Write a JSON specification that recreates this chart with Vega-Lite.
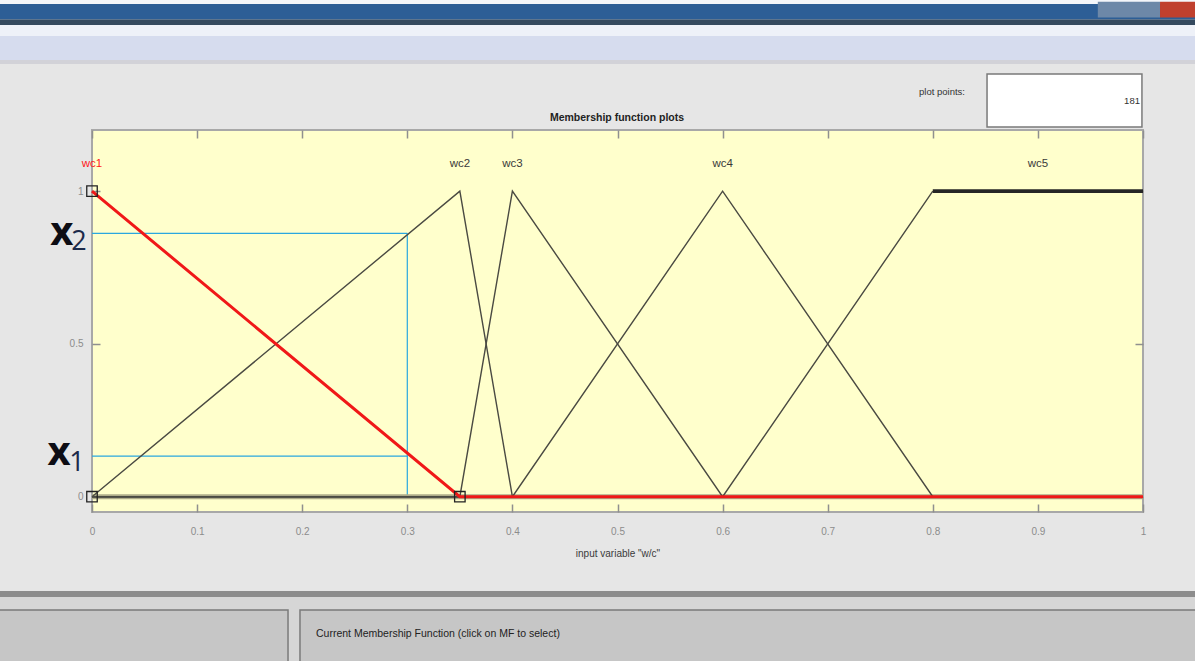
{
  "$schema": "https://vega.github.io/schema/vega-lite/v6.json",
  "width": 1051,
  "height": 382,
  "autosize": {"type": "none"},
  "padding": {"left": 92, "top": 130, "right": 52, "bottom": 149},
  "background": "#e6e6e6",
  "config": {
    "view": {"fill": "#ffffcc", "stroke": "#a8a8a8", "strokeWidth": 2},
    "font": "Liberation Sans"
  },
  "datasets": {
    "mfs": [
      {"line": "wc1", "x": 0, "y": 1},
      {"line": "wc1", "x": 0.35, "y": 0},
      {"line": "wc1", "x": 1, "y": 0},
      {"line": "wc2", "x": 0, "y": 0},
      {"line": "wc2", "x": 0.35, "y": 1},
      {"line": "wc2", "x": 0.4, "y": 0},
      {"line": "wc2", "x": 1, "y": 0},
      {"line": "wc3", "x": 0, "y": 0},
      {"line": "wc3", "x": 0.35, "y": 0},
      {"line": "wc3", "x": 0.4, "y": 1},
      {"line": "wc3", "x": 0.6, "y": 0},
      {"line": "wc3", "x": 1, "y": 0},
      {"line": "wc4", "x": 0, "y": 0},
      {"line": "wc4", "x": 0.4, "y": 0},
      {"line": "wc4", "x": 0.6, "y": 1},
      {"line": "wc4", "x": 0.8, "y": 0},
      {"line": "wc4", "x": 1, "y": 0},
      {"line": "wc5", "x": 0, "y": 0},
      {"line": "wc5", "x": 0.6, "y": 0},
      {"line": "wc5", "x": 0.8, "y": 1},
      {"line": "wc5 plateau", "x": 0.8, "y": 1},
      {"line": "wc5 plateau", "x": 1, "y": 1}
    ],
    "chrome": [
      {"part": "whitetop", "x": -0.1, "x2": 1.06, "y": 1.6123, "y2": 1.7},
      {"part": "titlebar", "x": -0.1, "x2": 1.06, "y": 1.5615, "y2": 1.6123},
      {"part": "buttons", "x": 0.957, "x2": 1.0162, "y": 1.5681, "y2": 1.62},
      {"part": "close", "x": 1.0162, "x2": 1.06, "y": 1.5681, "y2": 1.62},
      {"part": "titleline", "x": -0.1, "x2": 1.06, "y": 1.5436, "y2": 1.5615},
      {"part": "bandlight", "x": -0.1, "x2": 1.06, "y": 1.5076, "y2": 1.5436},
      {"part": "bandlav", "x": -0.1, "x2": 1.06, "y": 1.4291, "y2": 1.5076},
      {"part": "bandedge", "x": -0.1, "x2": 1.06, "y": 1.416, "y2": 1.4291},
      {"part": "bottomline", "x": -0.1, "x2": 1.06, "y": -0.3282, "y2": -0.3085},
      {"part": "bottomband", "x": -0.1, "x2": 1.06, "y": -0.7, "y2": -0.3282}
    ],
    "boxes": [
      {"part": "plotbox", "x": 0.8516, "x2": 0.999, "y": 1.2098, "y2": 1.3833},
      {"part": "leftbox", "x": -0.1, "x2": 0.1865, "y": -0.7, "y2": -0.3707},
      {"part": "rightbox", "x": 0.1979, "x2": 1.06, "y": -0.7, "y2": -0.3707}
    ]
  },
  "layer": [
    {
      "data": {"name": "chrome"},
      "mark": {"type": "rect"},
      "encoding": {
        "x": {"field": "x", "type": "quantitative", "axis": null, "scale": {"domain": [0, 1], "nice": false, "zero": false}},
        "x2": {"field": "x2"},
        "y": {"field": "y", "type": "quantitative", "axis": null, "scale": {"domain": [-0.05, 1.2], "nice": false, "zero": false}},
        "y2": {"field": "y2"},
        "fill": {
          "field": "part",
          "type": "nominal",
          "legend": null,
          "scale": {
            "domain": ["whitetop", "titlebar", "buttons", "close", "titleline", "bandlight", "bandlav", "bandedge", "bottomline", "bottomband", "plotbox", "leftbox", "rightbox"],
            "range": ["#f4f6fa", "#2d5e96", "#6d88a8", "#c0402e", "#34495e", "#eef1f8", "#d6dcee", "#d2d2d8", "#8c8c8c", "#d6d6d6", "#ffffff", "#c6c6c6", "#c6c6c6"]
          }
        }
      }
    },
    {
      "data": {"name": "boxes"},
      "mark": {"type": "rect", "stroke": "#7a7a7a", "strokeWidth": 1.5},
      "encoding": {
        "x": {"field": "x", "type": "quantitative", "axis": null, "scale": {"domain": [0, 1], "nice": false, "zero": false}},
        "x2": {"field": "x2"},
        "y": {"field": "y", "type": "quantitative", "axis": null, "scale": {"domain": [-0.05, 1.2], "nice": false, "zero": false}},
        "y2": {"field": "y2"},
        "fill": {
          "field": "part",
          "type": "nominal",
          "legend": null,
          "scale": {
            "domain": ["whitetop", "titlebar", "buttons", "close", "titleline", "bandlight", "bandlav", "bandedge", "bottomline", "bottomband", "plotbox", "leftbox", "rightbox"],
            "range": ["#f4f6fa", "#2d5e96", "#6d88a8", "#c0402e", "#34495e", "#eef1f8", "#d6dcee", "#d2d2d8", "#8c8c8c", "#d6d6d6", "#ffffff", "#c6c6c6", "#c6c6c6"]
          }
        }
      }
    },
    {
      "data": {"values": [
        {"t": "plot points:", "x": 0.8306, "y": 1.3243},
        {"t": "181", "x": 0.9971, "y": 1.2949}
      ]},
      "mark": {"type": "text", "align": "right", "baseline": "middle", "fontSize": 9.5, "fill": "#333333"},
      "encoding": {
        "x": {"field": "x", "type": "quantitative", "axis": null, "scale": {"domain": [0, 1], "nice": false, "zero": false}},
        "y": {"field": "y", "type": "quantitative", "axis": null, "scale": {"domain": [-0.05, 1.2], "nice": false, "zero": false}},
        "text": {"field": "t"}
      }
    },
    {
      "data": {"values": [
        {"t": "Membership function plots", "x": 0.4995, "y": 1.2393}
      ]},
      "mark": {"type": "text", "align": "center", "baseline": "middle", "fontSize": 10.5, "fontWeight": "bold", "fill": "#222222"},
      "encoding": {
        "x": {"field": "x", "type": "quantitative", "axis": null, "scale": {"domain": [0, 1], "nice": false, "zero": false}},
        "y": {"field": "y", "type": "quantitative", "axis": null, "scale": {"domain": [-0.05, 1.2], "nice": false, "zero": false}},
        "text": {"field": "t"}
      }
    },
    {
      "data": {"values": [
        {"t": "Current Membership Function (click on MF to select)", "x": 0.2131, "y": -0.4492}
      ]},
      "mark": {"type": "text", "align": "left", "baseline": "middle", "fontSize": 10.5, "fill": "#222222"},
      "encoding": {
        "x": {"field": "x", "type": "quantitative", "axis": null, "scale": {"domain": [0, 1], "nice": false, "zero": false}},
        "y": {"field": "y", "type": "quantitative", "axis": null, "scale": {"domain": [-0.05, 1.2], "nice": false, "zero": false}},
        "text": {"field": "t"}
      }
    },
    {
      "data": {"values": [
        {"x": 0, "x2": 0.3, "y": 0.862, "y2": 0.862},
        {"x": 0, "x2": 0.3, "y": 0.133, "y2": 0.133},
        {"x": 0.3, "x2": 0.3, "y": 0, "y2": 0.862}
      ]},
      "mark": {"type": "rule", "color": "#2aa7df", "strokeWidth": 1.2},
      "encoding": {
        "x": {
          "field": "x", "type": "quantitative",
          "scale": {"domain": [0, 1], "nice": false, "zero": false},
          "axis": {"orient": "top", "values": [0, 0.1, 0.2, 0.3, 0.4, 0.5, 0.6, 0.7, 0.8, 0.9, 1], "labels": false, "tickSize": -8, "tickColor": "#8f8f8f", "tickWidth": 1.5, "domain": false, "grid": false, "title": null}
        },
        "x2": {"field": "x2"},
        "y": {
          "field": "y", "type": "quantitative",
          "scale": {"domain": [-0.05, 1.2], "nice": false, "zero": false},
          "axis": {"orient": "right", "values": [0, 0.5, 1], "labels": false, "tickSize": -8, "tickColor": "#8f8f8f", "tickWidth": 1.5, "domain": false, "grid": false, "title": null}
        },
        "y2": {"field": "y2"}
      }
    },
    {
      "data": {"values": [{"x": 0, "x2": 1, "y": 0}]},
      "mark": {"type": "rule", "color": "#aeac8a", "strokeWidth": 5},
      "encoding": {
        "x": {"field": "x", "type": "quantitative", "axis": null, "scale": {"domain": [0, 1], "nice": false, "zero": false}},
        "x2": {"field": "x2"},
        "y": {"field": "y", "type": "quantitative", "axis": null, "scale": {"domain": [-0.05, 1.2], "nice": false, "zero": false}}
      }
    },
    {
      "data": {"name": "mfs"},
      "transform": [{"filter": {"field": "line", "oneOf": ["wc2", "wc3", "wc4", "wc5"]}}],
      "mark": {"type": "line", "color": "#4a4a42", "strokeWidth": 1.4},
      "encoding": {
        "x": {
          "field": "x", "type": "quantitative",
          "scale": {"domain": [0, 1], "nice": false, "zero": false},
          "axis": {
            "orient": "bottom", "values": [0, 0.1, 0.2, 0.3, 0.4, 0.5, 0.6, 0.7, 0.8, 0.9, 1], "format": "~g",
            "tickSize": -8, "tickColor": "#8f8f8f", "tickWidth": 1.5, "domain": false, "grid": false,
            "labelFlush": false, "labelPadding": 22, "labelFontSize": 10, "labelColor": "#8c8c8c",
            "title": "input variable \"w/c\"", "titleFontSize": 10, "titleFontWeight": "normal", "titleColor": "#3a3a3a", "titlePadding": 12
          }
        },
        "y": {
          "field": "y", "type": "quantitative",
          "scale": {"domain": [-0.05, 1.2], "nice": false, "zero": false},
          "axis": {
            "orient": "left", "values": [0, 0.5, 1], "format": "~g",
            "tickSize": -8, "tickColor": "#8f8f8f", "tickWidth": 1.5, "domain": false, "grid": false,
            "labelPadding": 17, "labelFontSize": 10, "labelColor": "#8c8c8c", "title": null
          }
        },
        "detail": {"field": "line", "type": "nominal"}
      }
    },
    {
      "data": {"name": "mfs"},
      "transform": [{"filter": {"field": "line", "equal": "wc5 plateau"}}],
      "mark": {"type": "line", "color": "#262626", "strokeWidth": 3.6},
      "encoding": {
        "x": {"field": "x", "type": "quantitative", "axis": null, "scale": {"domain": [0, 1], "nice": false, "zero": false}},
        "y": {"field": "y", "type": "quantitative", "axis": null, "scale": {"domain": [-0.05, 1.2], "nice": false, "zero": false}}
      }
    },
    {
      "data": {"name": "mfs"},
      "transform": [{"filter": {"field": "line", "equal": "wc1"}}],
      "mark": {"type": "line", "color": "#f01818", "strokeWidth": 3},
      "encoding": {
        "x": {"field": "x", "type": "quantitative", "axis": null, "scale": {"domain": [0, 1], "nice": false, "zero": false}},
        "y": {"field": "y", "type": "quantitative", "axis": null, "scale": {"domain": [-0.05, 1.2], "nice": false, "zero": false}}
      }
    },
    {
      "data": {"values": [
        {"x": 0, "y": 1},
        {"x": 0, "y": 0},
        {"x": 0.35, "y": 0}
      ]},
      "mark": {"type": "point", "shape": "square", "size": 110, "filled": false, "stroke": "#222222", "strokeWidth": 1.3, "opacity": 1},
      "encoding": {
        "x": {"field": "x", "type": "quantitative", "axis": null, "scale": {"domain": [0, 1], "nice": false, "zero": false}},
        "y": {"field": "y", "type": "quantitative", "axis": null, "scale": {"domain": [-0.05, 1.2], "nice": false, "zero": false}}
      }
    },
    {
      "data": {"values": [
        {"mf": "wc1", "x": 0, "y": 1.089},
        {"mf": "wc2", "x": 0.35, "y": 1.089},
        {"mf": "wc3", "x": 0.4, "y": 1.089},
        {"mf": "wc4", "x": 0.6, "y": 1.089},
        {"mf": "wc5", "x": 0.9, "y": 1.089}
      ]},
      "mark": {"type": "text", "align": "center", "baseline": "middle", "fontSize": 11.5},
      "encoding": {
        "x": {"field": "x", "type": "quantitative", "axis": null, "scale": {"domain": [0, 1], "nice": false, "zero": false}},
        "y": {"field": "y", "type": "quantitative", "axis": null, "scale": {"domain": [-0.05, 1.2], "nice": false, "zero": false}},
        "text": {"field": "mf"},
        "fill": {"condition": {"test": "datum.mf === 'wc1'", "value": "#ff1a1a"}, "value": "#3a3a3a"}
      }
    },
    {
      "data": {"values": [
        {"t": "x", "x": -0.0288, "y": 0.824},
        {"t": "x", "x": -0.0314, "y": 0.104}
      ]},
      "mark": {"type": "text", "align": "center", "baseline": "alphabetic", "font": "Open Sans", "fontSize": 40, "fontWeight": "bold", "fill": "#0d0d14"},
      "encoding": {
        "x": {"field": "x", "type": "quantitative", "axis": null, "scale": {"domain": [0, 1], "nice": false, "zero": false}},
        "y": {"field": "y", "type": "quantitative", "axis": null, "scale": {"domain": [-0.05, 1.2], "nice": false, "zero": false}},
        "text": {"field": "t"}
      }
    },
    {
      "data": {"values": [
        {"t": "2", "x": -0.0125, "y": 0.807},
        {"t": "1", "x": -0.0144, "y": 0.084}
      ]},
      "mark": {"type": "text", "align": "center", "baseline": "alphabetic", "font": "Open Sans", "fontSize": 27, "fill": "#1c2a4a"},
      "encoding": {
        "x": {"field": "x", "type": "quantitative", "axis": null, "scale": {"domain": [0, 1], "nice": false, "zero": false}},
        "y": {"field": "y", "type": "quantitative", "axis": null, "scale": {"domain": [-0.05, 1.2], "nice": false, "zero": false}},
        "text": {"field": "t"}
      }
    }
  ],
  "resolve": {"axis": {"x": "independent", "y": "independent"}}
}
